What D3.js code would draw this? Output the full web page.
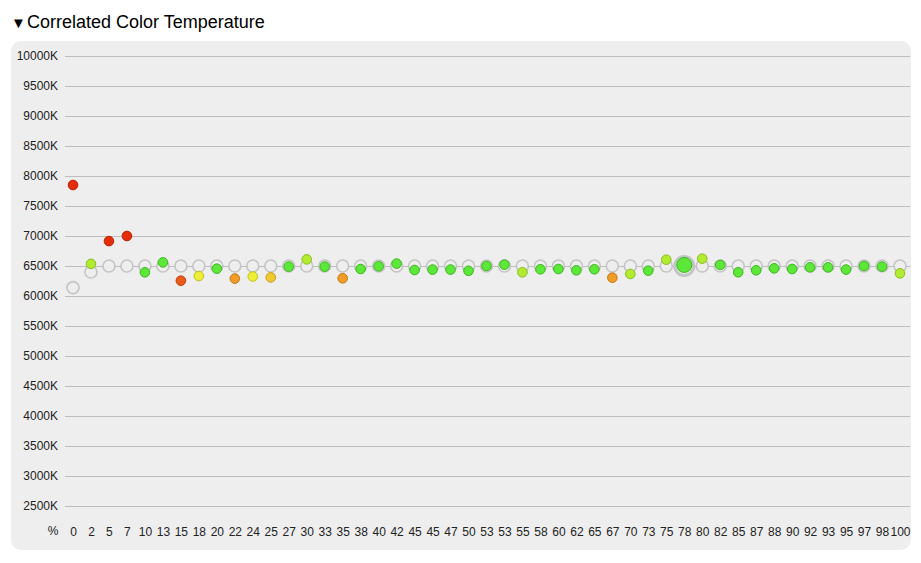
<!DOCTYPE html>
<html>
<head>
<meta charset="utf-8">
<script src="https://cdn.jsdelivr.net/npm/d3@7"></script>
<style>
  body { margin: 0; background: #fff; font-family: "Liberation Sans", Arial, Helvetica, sans-serif; }
</style>
</head>
<body>
<div id="chart"></div>
<script>
// Data
var labels = ["0","2","5","7","10","13","15","18","20","22","24","25","27","30","33","35","38","40","42","45","45","47",
  "50","53","53","55","58","60","62","65","67","70","73","75","78","80","82","85","87","88","90","92","93","95","97","98","100"];

// target CCT (hollow gray rings)
var target = [6140,6400,6500,6500,6500,6500,6500,6500,6500,6500,6500,6500,6500,6500,6500,6500,6500,6500,6500,6500,6500,6500,
  6500,6500,6500,6500,6500,6500,6500,6500,6500,6500,6500,6500,6500,6500,6500,6500,6500,6500,6500,6500,6500,6500,6500,6500,6500];

// measured CCT (filled dots)
var measured = [7850,6535,6915,7000,6395,6560,6255,6333,6455,6290,6325,6310,6490,6610,6490,6295,6450,6495,6540,6433,6440,6440,
  6420,6500,6522,6395,6445,6450,6428,6445,6305,6367,6422,6605,6517,6622,6517,6395,6428,6461,6450,6478,6478,6440,6500,6490,6378];

// error grade of each dot: 0 good ... 6 bad
var grade = [6,1,6,6,0,0,5,2,0,4,2,3,0,1,0,4,0,0,0,0,0,0,
  0,0,0,1,0,0,0,0,4,1,0,1,0,1,0,0,0,0,0,0,0,0,0,0,1];

var highlighted = 34;

var yTicks = d3.range(2500, 10001, 500);

var fills   = ["#5ce838","#b2ec30","#eeee36","#f0c830","#f09c26","#e85c18","#e42e0a"];
var strokes = ["#3cb41e","#88bc1e","#c0c020","#c89c1c","#c47614","#bc3c0c","#b81e04"];

var width = 921, height = 563;

var svg = d3.select("#chart")
  .append("svg")
    .attr("width", width)
    .attr("height", height);

// Title
svg.append("text")
  .attr("x", 11)
  .attr("y", 28)
  .style("font-size", "15px")
  .text("\u25BC");
svg.append("text")
  .attr("x", 27)
  .attr("y", 28)
  .style("font-size", "18px")
  .style("fill", "#000")
  .text("Correlated Color Temperature");

// Panel
svg.append("rect")
  .attr("x", 11)
  .attr("y", 41)
  .attr("width", 900)
  .attr("height", 509)
  .attr("rx", 10)
  .attr("fill", "#eeeeee");

// Scales
var x = d3.scalePoint()
  .domain(d3.range(labels.length))
  .range([73, 900]);

var y = d3.scaleLinear()
  .domain([2500, 10000])
  .range([506, 56]);

// Gridlines + y labels
var yAxis = svg.append("g")
  .attr("transform", "translate(65,0)")
  .call(d3.axisLeft(y).tickValues(yTicks).tickSize(-845).tickPadding(7)
    .tickFormat(function(d) { return d + "K"; }));
yAxis.select(".domain").remove();
yAxis.selectAll("line").attr("stroke", "#bdbdbd");
yAxis.selectAll("text")
  .style("font-family", "Liberation Sans, Arial, sans-serif")
  .style("font-size", "12px")
  .attr("fill", "#222");

// X labels
var xAxis = svg.append("g")
  .attr("transform", "translate(0,521)")
  .call(d3.axisBottom(x).tickSize(0).tickPadding(6)
    .tickFormat(function(i) { return labels[i]; }));
xAxis.select(".domain").remove();
xAxis.selectAll("text")
  .style("font-family", "Liberation Sans, Arial, sans-serif")
  .style("font-size", "12px")
  .attr("fill", "#222");

svg.append("text")
  .attr("x", 53)
  .attr("y", 535)
  .attr("text-anchor", "middle")
  .style("font-size", "12px")
  .attr("fill", "#222")
  .text("%");

// Target rings
svg.append("g").selectAll("circle")
  .data(target)
  .join("circle")
    .attr("cx", function(d, i) { return x(i); })
    .attr("cy", function(d) { return y(d); })
    .attr("r", function(d, i) { return i == highlighted ? 9.5 : 6; })
    .attr("fill", "#eeeeee")
    .attr("stroke", "#c4c4c4")
    .attr("stroke-width", function(d, i) { return i == highlighted ? 3 : 1.6; });

// Measured dots
svg.append("g").selectAll("circle")
  .data(measured)
  .join("circle")
    .attr("cx", function(d, i) { return x(i); })
    .attr("cy", function(d) { return y(d); })
    .attr("r", function(d, i) { return i == highlighted ? 7.5 : 4.8; })
    .attr("fill", function(d, i) { return fills[grade[i]]; })
    .attr("stroke", function(d, i) { return strokes[grade[i]]; })
    .attr("stroke-width", 1);
</script>
</body>
</html>
